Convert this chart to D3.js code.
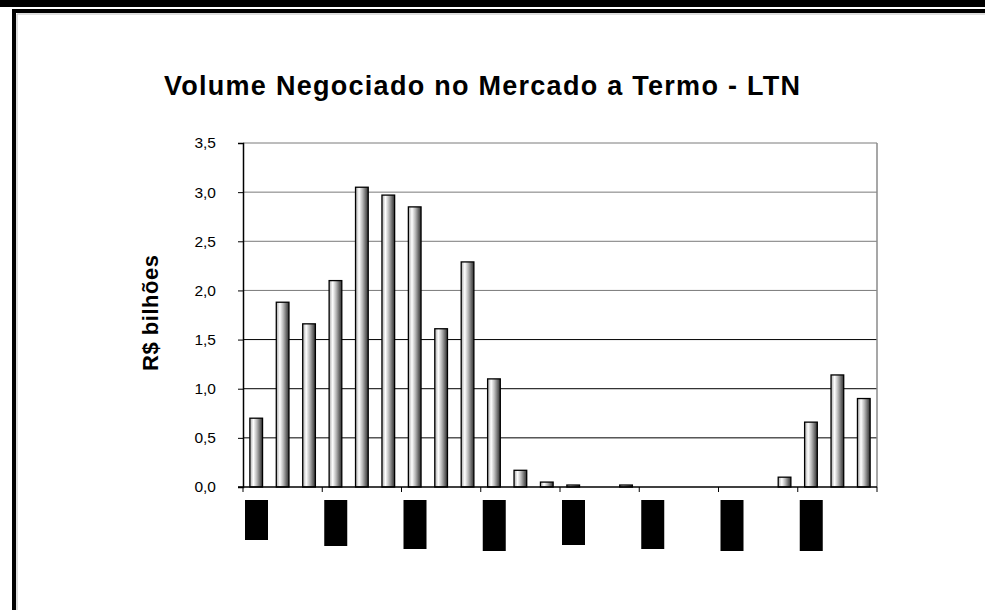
<!DOCTYPE html>
<html>
<head>
<meta charset="utf-8">
<script src="https://cdn.jsdelivr.net/npm/d3@7"></script>
<style>
  body { margin: 0; background: #fff; }
  svg { display: block; font-family: "Liberation Sans", Arial, sans-serif; }
</style>
</head>
<body>
<div id="chart"></div>
<script>
// monthly volumes (R$ bilhões), 24 periods
const periods = d3.range(24).map(i => "m" + i);
const volumes = [0.70, 1.88, 1.66, 2.10, 3.05, 2.97, 2.85, 1.61, 2.29, 1.10, 0.17, 0.05,
                 0.02, 0, 0.02, 0, 0, 0, 0, 0, 0.10, 0.66, 1.14, 0.90];
const yTicks = [0, 0.5, 1.0, 1.5, 2.0, 2.5, 3.0, 3.5];
// category labels render as solid blocks in the source; their lengths
const labelBoxHeights = [40, 46, 49, 51, 45, 49, 51, 51];

const width = 985, height = 610;
const margin = { top: 143, right: 108, bottom: 123, left: 243 };
const innerW = width - margin.left - margin.right;
const innerH = height - margin.top - margin.bottom;

const svg = d3.select("#chart").append("svg")
  .attr("width", width)
  .attr("height", height);

// page frame
svg.append("rect").attr("x", 0).attr("y", 0).attr("width", width).attr("height", 7).attr("fill", "#000");
svg.append("rect").attr("x", 12).attr("y", 9).attr("width", width - 12).attr("height", 4).attr("fill", "#000");
svg.append("rect").attr("x", 12).attr("y", 9).attr("width", 4).attr("height", height - 9).attr("fill", "#000");
svg.append("line").attr("x1", 17).attr("x2", width).attr("y1", 14).attr("y2", 14).attr("stroke", "#bbb");
svg.append("line").attr("x1", 17).attr("x2", 17).attr("y1", 14).attr("y2", height).attr("stroke", "#bbb");

// bar gradient
const grad = svg.append("defs").append("linearGradient")
  .attr("id", "barGrad").attr("x1", "0%").attr("x2", "100%");
[[0, "#a8a8a8"], [0.28, "#ffffff"], [0.55, "#b8b8b8"], [0.8, "#6a6a6a"], [1, "#303030"]]
  .forEach(([o, c]) => grad.append("stop").attr("offset", o).attr("stop-color", c));

const chart = svg.append("g")
  .attr("transform", `translate(${margin.left},${margin.top})`);

const x = d3.scaleBand().domain(periods).range([0, innerW]).paddingInner(0.52).paddingOuter(0.26);
const xPos = d3.scaleLinear().domain([0, periods.length]).range([0, innerW]);
const y = d3.scaleLinear().domain([0, 3.5]).range([innerH, 0]);

// gridlines
chart.selectAll(".grid")
  .data(yTicks.filter(d => d > 0))
  .join("line")
  .attr("class", "grid")
  .attr("x1", 0).attr("x2", innerW)
  .attr("y1", d => y(d)).attr("y2", d => y(d))
  .attr("stroke", d => d >= 2 ? "#7a7a7a" : "#000")
  .attr("stroke-width", 1);

// right border of plot area
chart.append("line")
  .attr("x1", innerW).attr("x2", innerW)
  .attr("y1", 0).attr("y2", innerH)
  .attr("stroke", "#8a8a8a").attr("stroke-width", 1.5);

// y axis
const yAxis = d3.axisLeft(y).tickValues(yTicks).tickSize(5).tickPadding(22)
  .tickFormat(d => d3.format(".1f")(d).replace(".", ","));
const yAxisG = chart.append("g").call(yAxis);
yAxisG.select(".domain").attr("stroke", "#000").attr("stroke-width", 1.5);
yAxisG.selectAll("text").attr("font-size", 15.5).attr("fill", "#000")
  .attr("font-family", "'Liberation Sans', Arial, sans-serif");

// bars
chart.selectAll(".bar")
  .data(volumes.map((v, i) => ({ p: periods[i], v })).filter(d => d.v > 0))
  .join("rect")
  .attr("class", "bar")
  .attr("x", d => x(d.p))
  .attr("width", x.bandwidth())
  .attr("y", d => y(d.v))
  .attr("height", d => Math.max(1.5, innerH - y(d.v)))
  .attr("fill", "url(#barGrad)")
  .attr("stroke", "#000")
  .attr("stroke-width", 1.3);

// x axis with ticks every 3 periods
const xAxisG = chart.append("g").attr("transform", `translate(0,${innerH})`);
xAxisG.append("line").attr("x1", -5).attr("x2", innerW).attr("y1", 0).attr("y2", 0)
  .attr("stroke", "#000").attr("stroke-width", 1.3);
xAxisG.selectAll(".xtick")
  .data(d3.range(0, periods.length + 1, 3))
  .join("line")
  .attr("class", "xtick")
  .attr("x1", d => xPos(d)).attr("x2", d => xPos(d))
  .attr("y1", 0).attr("y2", 5)
  .attr("stroke", "#000");

// label blocks
xAxisG.selectAll(".lbl")
  .data(labelBoxHeights)
  .join("rect")
  .attr("class", "lbl")
  .attr("x", (d, i) => xPos(i * 3) + 2)
  .attr("y", 13)
  .attr("width", 23)
  .attr("height", d => d)
  .attr("fill", "#000");

// title
svg.append("text")
  .attr("x", 482).attr("y", 95)
  .attr("text-anchor", "middle")
  .attr("font-size", 27).attr("font-weight", "bold")
  .attr("textLength", 636).attr("lengthAdjust", "spacing")
  .text("Volume Negociado no Mercado a Termo - LTN");

// y label
svg.append("text")
  .attr("transform", `translate(158,${margin.top + innerH / 2 - 2}) rotate(-90)`)
  .attr("text-anchor", "middle")
  .attr("font-size", 22).attr("font-weight", "bold")
  .attr("textLength", 116).attr("lengthAdjust", "spacing")
  .text("R$ bilhões");
</script>
</body>
</html>
